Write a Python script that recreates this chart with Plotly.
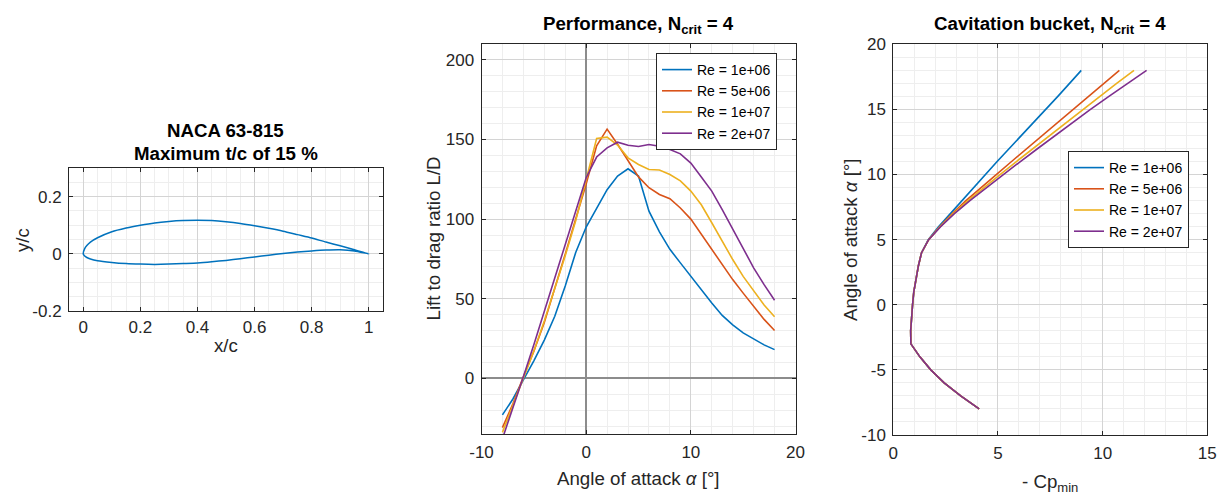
import plotly.graph_objects as go

W, H = 1222, 495

# ---------------- data ----------------
# Airfoil NACA 63-815, trailing edge -> upper -> leading edge -> lower -> trailing edge
foil_x = [1.0, 0.95, 0.9, 0.85, 0.8, 0.75, 0.7, 0.65, 0.6, 0.55, 0.5, 0.45, 0.4, 0.35, 0.3, 0.25,
          0.2, 0.15, 0.1, 0.05, 0.025, 0.0125, 0.005, 0.0,
          0.005, 0.0125, 0.025, 0.05, 0.1, 0.15, 0.2, 0.25, 0.3, 0.35, 0.4, 0.45, 0.5, 0.55,
          0.6, 0.65, 0.7, 0.75, 0.8, 0.85, 0.9, 0.95, 1.0]
foil_y = [0.0, 0.014, 0.028, 0.041, 0.055, 0.067, 0.079, 0.089, 0.098, 0.106, 0.112, 0.116, 0.117,
          0.116, 0.113, 0.108, 0.100, 0.090, 0.077, 0.056, 0.041, 0.029, 0.018, 0.0,
          -0.008, -0.013, -0.018, -0.024, -0.030, -0.034, -0.036, -0.037, -0.036, -0.034,
          -0.032, -0.028, -0.023, -0.017, -0.011, -0.005, 0.001, 0.006, 0.010, 0.013, 0.014,
          0.010, 0.0]

alpha = [-8, -7, -6, -5, -4, -3, -2, -1, 0, 1, 2, 3, 4, 5, 6, 7, 8, 9, 10, 11, 12, 13, 14, 15, 16, 17, 18]

series_names = ["Re = 1e+06", "Re = 5e+06", "Re = 1e+07", "Re = 2e+07"]
series_colors = ["#0072BD", "#D95319", "#EDB120", "#7E2F8E"]

LD_1e6 = [-23, -13, -1, 11, 24, 39, 58, 79, 95, 107, 118.5, 127, 131.6, 127, 105, 92, 81, 72.5,
          64, 55.7, 47.3, 39.5, 33.5, 28.5, 24.5, 21, 18]
LD_5e6 = [-31, -16, 1, 17, 35, 56, 78, 100, 122, 146, 156.5, 147, 137, 126.5, 119.7, 115.5, 112.8,
          107, 100, 90.5, 81, 71.5, 62, 53.5, 45, 37, 30]
LD_1e7 = [-34, -17, 0, 17, 36, 56, 77, 99, 124, 150.6, 151.5, 146.5, 138.5, 134.3, 131.2, 130.8,
          128, 124, 117.6, 109, 97.7, 86, 74.6, 64, 54.6, 46, 38.7]
LD_2e7 = [-38, -19, 1, 21, 42, 63, 85, 106, 126, 139, 144.8, 148.3, 146.4, 145.6, 146.9, 145.8,
          143.7, 141, 135.2, 126.5, 117.6, 106, 93.5, 81, 69.4, 58.8, 49]

CP_1e6 = [4.1, 3.22, 2.43, 1.79, 1.27, 0.84, 0.83, 0.86, 0.92, 0.98, 1.08, 1.2, 1.35, 1.67, 2.17,
          2.72, 3.27, 3.82, 4.38, 4.96, 5.54, 6.13, 6.72, 7.3, 7.86, 8.42, 8.98]
CP_5e6 = [4.1, 3.22, 2.43, 1.79, 1.27, 0.84, 0.83, 0.86, 0.92, 0.98, 1.08, 1.2, 1.35, 1.69, 2.22,
          2.82, 3.47, 4.17, 4.92, 5.65, 6.38, 7.12, 7.86, 8.6, 9.34, 10.07, 10.8]
CP_1e7 = [4.1, 3.22, 2.43, 1.79, 1.27, 0.84, 0.83, 0.86, 0.92, 0.98, 1.08, 1.2, 1.35, 1.69, 2.24,
          2.87, 3.57, 4.32, 5.1, 5.88, 6.67, 7.46, 8.26, 9.05, 9.85, 10.67, 11.5]
CP_2e7 = [4.1, 3.22, 2.43, 1.79, 1.27, 0.84, 0.83, 0.86, 0.92, 0.98, 1.08, 1.2, 1.35, 1.69, 2.26,
          2.92, 3.66, 4.45, 5.26, 6.07, 6.9, 7.73, 8.57, 9.42, 10.3, 11.2, 12.1]

LD_all = [LD_1e6, LD_5e6, LD_1e7, LD_2e7]
CP_all = [CP_1e6, CP_5e6, CP_1e7, CP_2e7]

# ---------------- figure ----------------
FONT = "Liberation Sans, Arial, Helvetica, sans-serif"
TICK = 17
LABEL = 18.7
TITLE = 18.7
LEG = 14

fig = go.Figure()

fig.add_trace(go.Scatter(x=foil_x, y=foil_y, mode="lines",
                         line=dict(color="#0072BD", width=1.5, shape="spline", smoothing=0.6),
                         xaxis="x", yaxis="y", showlegend=False))

for name, col, ld in zip(series_names, series_colors, LD_all):
    fig.add_trace(go.Scatter(x=alpha, y=ld, mode="lines", name=name, line=dict(color=col, width=1.6),
                             xaxis="x2", yaxis="y2", legend="legend"))
for name, col, cp in zip(series_names, series_colors, CP_all):
    fig.add_trace(go.Scatter(x=cp, y=alpha, mode="lines", name=name, line=dict(color=col, width=1.6),
                             xaxis="x3", yaxis="y3", legend="legend2"))


def px(xp):
    return xp / W


def py(yp):
    return 1 - yp / H


def axis(domain, rng, tickvals, ticktext, minor_dtick, anchor, standoff, zeroline=False):
    return dict(domain=domain, range=rng, anchor=anchor, autorange=False, automargin=False,
                tickmode="array", tickvals=tickvals, ticktext=ticktext,
                showline=True, linecolor="#262626", linewidth=1, mirror="allticks",
                ticks="inside", ticklen=4, tickcolor="#262626", tickwidth=1,
                ticklabelstandoff=standoff,
                showgrid=True, gridcolor="#d4d4d4", gridwidth=1,
                minor=dict(dtick=minor_dtick, showgrid=True, gridcolor="#eeeeee", gridwidth=1, ticks=""),
                zeroline=zeroline, zerolinecolor="#8c8c8c", zerolinewidth=2,
                tickfont=dict(family=FONT, size=TICK, color="#262626"), fixedrange=True)


left_dx = [px(69), px(383)]
left_dy = [py(311), py(168)]
mid_dx = [px(481.5), px(795.5)]
mid_dy = [py(434), py(44)]
right_dx = [px(893.3), px(1207.3)]
right_dy = [py(435), py(44.3)]

legend_style = dict(xanchor="left", yanchor="top", bgcolor="white",
                    bordercolor="#262626", borderwidth=1,
                    font=dict(family=FONT, size=LEG, color="#000000"),
                    tracegroupgap=0, itemwidth=30)

layout = dict(
    width=W, height=H, margin=dict(l=0, r=0, t=0, b=0, pad=0, autoexpand=False), autosize=False,
    paper_bgcolor="white", plot_bgcolor="white",
    font=dict(family=FONT, color="#262626"),
    xaxis=axis(left_dx, [-0.05, 1.05], [0, 0.2, 0.4, 0.6, 0.8, 1],
               ["0", "0.2", "0.4", "0.6", "0.8", "1"], 0.05, "y", 1),
    yaxis=axis(left_dy, [-0.2, 0.3], [-0.2, 0, 0.2], ["-0.2", "0", "0.2"], 0.05, "x", 3),
    xaxis2=axis(mid_dx, [-10, 20], [-10, 0, 10, 20], ["-10", "0", "10", "20"], 2, "y2", 3, zeroline=True),
    yaxis2=axis(mid_dy, [-35, 210], [0, 50, 100, 150, 200], ["0", "50", "100", "150", "200"], 10, "x2", 3,
                zeroline=True),
    xaxis3=axis(right_dx, [0, 15], [0, 5, 10, 15], ["0", "5", "10", "15"], 1, "y3", 3),
    yaxis3=axis(right_dy, [-10, 20], [-10, -5, 0, 5, 10, 15, 20],
                ["-10", "-5", "0", "5", "10", "15", "20"], 1, "x3", 3),
    legend=dict(x=px(656), y=py(53), **legend_style),
    legend2=dict(x=px(1068), y=py(151), **legend_style),
    showlegend=True,
)
fig.update_layout(**layout)


def ann(text, x, y, size=LABEL, bold=False, angle=0, color="#262626"):
    fig.add_annotation(text=("<b>%s</b>" % text) if bold else text, x=px(x), y=py(y),
                       xref="paper", yref="paper", xanchor="center", yanchor="middle",
                       showarrow=False, textangle=angle,
                       font=dict(family=FONT, size=size, color=color))


# titles
ann("NACA 63-815", 226, 130, size=TITLE, bold=True, color="#000000")
ann("Maximum t/c of 15 %", 226, 153, size=TITLE, bold=True, color="#000000")
ann("Performance, N<sub>crit</sub> = 4", 638.5, 25, size=TITLE, bold=True, color="#000000")
ann("Cavitation bucket, N<sub>crit</sub> = 4", 1050, 25, size=TITLE, bold=True, color="#000000")

# axis labels
ann("x/c", 226, 345)
ann("y/c", 22, 240, angle=-90)
ann("Angle of attack <i>α</i> [°]", 638.5, 478)
ann("Lift to drag ratio L/D", 432.5, 239, angle=-90)
ann("Angle of attack <i>α</i> [°]", 850, 240, angle=-90)
ann("- Cp<sub>min</sub>", 1050, 483)

fig.write_html("out.html")
